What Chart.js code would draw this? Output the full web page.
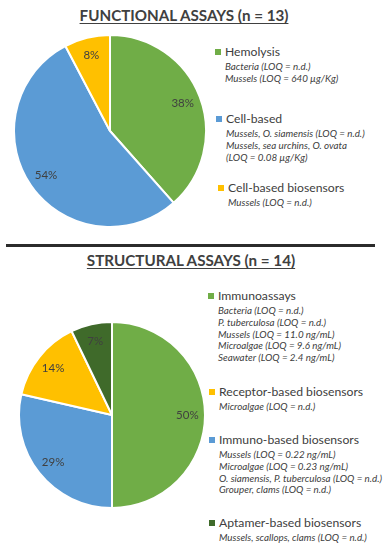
<!DOCTYPE html>
<html>
<head>
<meta charset="utf-8">
<script src="https://cdn.jsdelivr.net/npm/chart.js@4.4.0/dist/chart.umd.min.js"></script>
<style>
    body { margin: 0; background: #fff; }
    #page { position: relative; width: 387px; height: 550px; overflow: hidden; font-family: 'Lato', sans-serif; color: #404040; }
    .title { position: absolute; font-weight: bold; font-size: 15.2px; text-decoration: underline; text-underline-offset: 2px; white-space: nowrap; transform: translateX(-50%); line-height: 20px; }
    .rule { position: absolute; left: 6px; width: 369px; top: 244px; height: 3px; background: #2b2b2b; }
    .pie { position: absolute; }
    .block { position: absolute; white-space: nowrap; }
    .head { font-size: 12.2px; line-height: 18px; position: relative; }
    .head::before { content: ''; position: absolute; left: -10px; top: 6px; width: 6px; height: 6px; background: var(--c); }
    .sub { font-size: 9.8px; font-style: italic; line-height: 11.8px; }
</style>
</head>
<body>
<div id="page">
    <div class="title" style="left:184px; top:5px;">FUNCTIONAL ASSAYS (n = 13)</div>
    <div class="rule"></div>
    <div class="title" style="left:191px; top:250px;">STRUCTURAL ASSAYS (n = 14)</div>
    <canvas id="functional-chart" class="pie" style="left:13px; top:34px;"></canvas>
    <canvas id="structural-chart" class="pie" style="left:18px; top:321px;"></canvas>
</div>
<script>
// Functional assays (n = 13) - pie order clockwise from 12 o'clock
const functionalLabels = ['Hemolysis', 'Cell-based', 'Cell-based biosensors'];
const functionalCounts = [5, 7, 1];
const functionalColors = ['#70AD47', '#5B9BD5', '#FFC000'];
const functionalDetails = [
    ['Bacteria (LOQ = n.d.)', 'Mussels (LOQ = 640 µg/Kg)'],
    ['Mussels, O. siamensis (LOQ = n.d.)', 'Mussels, sea urchins, O. ovata', '(LOQ = 0.08 µg/Kg)'],
    ['Mussels (LOQ = n.d.)']
];

// Structural assays (n = 14) - pie order clockwise from 12 o'clock
const structuralLabels = ['Immunoassays', 'Immuno-based biosensors', 'Receptor-based biosensors', 'Aptamer-based biosensors'];
const structuralCounts = [7, 4, 2, 1];
const structuralColors = ['#70AD47', '#5B9BD5', '#FFC000', '#3F6A2A'];
const structuralDetails = [
    ['Bacteria (LOQ = n.d.)', 'P. tuberculosa (LOQ = n.d.)', 'Mussels (LOQ = 11.0 ng/mL)', 'Microalgae (LOQ = 9.6 ng/mL)', 'Seawater (LOQ = 2.4 ng/mL)'],
    ['Mussels (LOQ = 0.22 ng/mL)', 'Microalgae (LOQ = 0.23 ng/mL)', 'O. siamensis, P. tuberculosa (LOQ = n.d.)', 'Grouper, clams (LOQ = n.d.)'],
    ['Microalgae (LOQ = n.d.)'],
    ['Mussels, scallops, clams (LOQ = n.d.)']
];
// legend order differs from slice order in the structural chart
const structuralLegendOrder = [0, 2, 1, 3];

// legend block placement (left of text, top of block)
const functionalLegendPos = [[225, 43], [226, 110], [228, 179]];
const structuralLegendPos = [[218, 287], [219, 383], [219, 431], [219, 514]];

/**
 * Percent labels drawn inside each slice
 */
const percentLabels = {
    id: 'percentLabels',
    afterDatasetsDraw(chart) {
        const ctx = chart.ctx;
        const data = chart.data.datasets[0].data;
        const total = data.reduce((a, b) => a + b, 0);
        ctx.save();
        ctx.font = '11.5px Lato, sans-serif';
        ctx.fillStyle = '#404040';
        ctx.textAlign = 'center';
        ctx.textBaseline = 'middle';
        chart.getDatasetMeta(0).data.forEach((arc, i) => {
            const mid = (arc.startAngle + arc.endAngle) / 2;
            const r = arc.outerRadius * 0.81;
            const x = arc.x + Math.cos(mid) * r;
            const y = arc.y + Math.sin(mid) * r;
            ctx.fillText(Math.round(data[i] / total * 100) + '%', x, y);
        });
        ctx.restore();
    }
};

function createPie(id, size, labels, counts, colors) {
    const canvas = document.getElementById(id);
    canvas.width = size;
    canvas.height = size;
    canvas.style.width = size + 'px';
    canvas.style.height = size + 'px';
    return new Chart(canvas.getContext('2d'), {
        type: 'pie',
        data: {
            labels: labels,
            datasets: [{
                data: counts,
                backgroundColor: colors,
                borderColor: '#fff',
                borderWidth: 2
            }]
        },
        options: {
            responsive: false,
            animation: false,
            layout: { padding: 0 },
            plugins: {
                legend: { display: false },
                tooltip: { enabled: false }
            }
        },
        plugins: [percentLabels]
    });
}

function addLegend(labels, details, colors, positions, order) {
    const page = document.getElementById('page');
    order.forEach((idx, k) => {
        const block = document.createElement('div');
        block.className = 'block';
        block.style.left = positions[k][0] + 'px';
        block.style.top = positions[k][1] + 'px';
        const head = document.createElement('div');
        head.className = 'head';
        head.style.setProperty('--c', colors[idx]);
        head.textContent = labels[idx];
        block.appendChild(head);
        details[idx].forEach(line => {
            const sub = document.createElement('div');
            sub.className = 'sub';
            sub.textContent = line;
            block.appendChild(sub);
        });
        page.appendChild(block);
    });
}

createPie('functional-chart', 194, functionalLabels, functionalCounts, functionalColors);
createPie('structural-chart', 188, structuralLabels, structuralCounts, structuralColors);
addLegend(functionalLabels, functionalDetails, functionalColors, functionalLegendPos, [0, 1, 2]);
addLegend(structuralLabels, structuralDetails, structuralColors, structuralLegendPos, structuralLegendOrder);
</script>
</body>
</html>
